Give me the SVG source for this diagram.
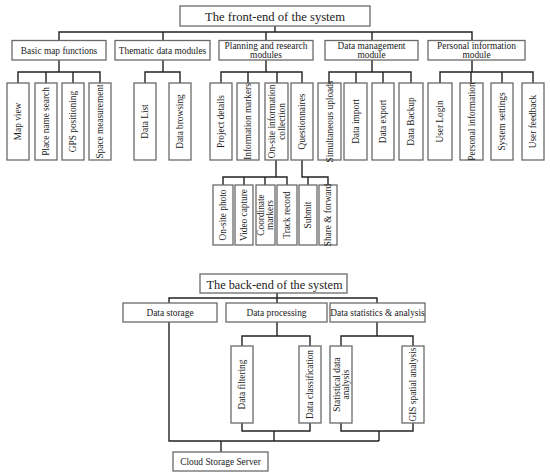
<svg xmlns="http://www.w3.org/2000/svg" width="550" height="476" viewBox="0 0 550 476">
<style>
rect{fill:#fff;stroke:#6a6a6a;stroke-width:1.3}
text{font-family:"Liberation Serif","Times New Roman",serif;fill:#222;text-anchor:middle;dominant-baseline:central}
.t{font-size:13px}
.m{font-size:9.4px}
.l{font-size:9.3px}
#connectors path{fill:none;stroke:#222;stroke-width:1.4}
</style>
<rect x="0" y="0" width="550" height="476" style="fill:#fff;stroke:none"/>
<g id="connectors">
<path d="M275 26V32M59 40V32H472V40M163 32V40M266 32V40M372 32V40"/>
<path d="M59 60V72M18 83V72H100V83M46 72V83M73 72V83"/>
<path d="M163 60V72M145 83V72H180V83"/>
<path d="M266 60V72M221 83V72H302V83M248 72V83M277 72V83"/>
<path d="M372 60V72M329 83V72H411V83M356 72V83M383 72V83"/>
<path d="M472 60V72M440 83V72H533V83M471 72V83M502 72V83"/>
<path d="M276 160V177M223 185V177H287V185M244 177V185M265 177V185"/>
<path d="M302 160V177H328V185M308 177V185"/>
<path d="M277 293V298M169 303V298H377V303M277 298V303"/>
<path d="M277 322V336M242 346V336H310V346"/>
<path d="M377 322V336M341 346V336H413V346"/>
<path d="M242 423V431H310V423M274 431V441"/>
<path d="M341 423V431H413V423M379 431V441"/>
<path d="M169 322V441H379M221 441V452"/>
</g>
<g id="front-end"><rect x="180" y="6" width="190" height="20"/><text class="t" x="275" y="16.5" textLength="140" lengthAdjust="spacingAndGlyphs">The front-end of the system</text></g>
<g id="basic-map"><rect x="12" y="40.5" width="94" height="19.5"/><text class="m" x="59" y="50.5">Basic map functions</text></g>
<g id="thematic"><rect x="115" y="40.5" width="95" height="19.5"/><text class="m" x="162.5" y="50.5">Thematic data modules</text></g>
<g id="planning"><rect x="219" y="40.5" width="94" height="19.5"/><text class="m" x="266" y="45.5">Planning and research</text><text class="m" x="266" y="55">modules</text></g>
<g id="data-mgmt"><rect x="325" y="40.5" width="93" height="19.5"/><text class="m" x="371.5" y="45.5">Data management</text><text class="m" x="371.5" y="55">module</text></g>
<g id="personal"><rect x="428" y="40.5" width="97" height="19.5"/><text class="m" x="476.5" y="45.5">Personal information</text><text class="m" x="476.5" y="55">module</text></g>

<g id="map-view"><rect x="7" y="83" width="22" height="77"/><text class="l" transform="rotate(-90 18 121.5)" x="18" y="121.5">Map view</text></g>
<g id="place-search"><rect x="35" y="83" width="22" height="77"/><text class="l" transform="rotate(-90 46 121.5)" x="46" y="121.5">Place name search</text></g>
<g id="gps"><rect x="62" y="83" width="22" height="77"/><text class="l" transform="rotate(-90 73 121.5)" x="73" y="121.5">GPS positioning</text></g>
<g id="space-meas"><rect x="89" y="83" width="22" height="77"/><text class="l" transform="rotate(-90 100 121.5)" x="100" y="121.5">Space measurement</text></g>
<g id="data-list"><rect x="134" y="83" width="22" height="77"/><text class="l" transform="rotate(-90 145 121.5)" x="145" y="121.5">Data List</text></g>
<g id="data-browsing"><rect x="169" y="83" width="22" height="77"/><text class="l" transform="rotate(-90 180 121.5)" x="180" y="121.5">Data browsing</text></g>
<g id="project-details"><rect x="210" y="83" width="22" height="77"/><text class="l" transform="rotate(-90 221 121.5)" x="221" y="121.5">Project details</text></g>
<g id="info-markers"><rect x="237" y="83" width="22" height="77"/><text class="l" transform="rotate(-90 248 121.5)" x="248" y="121.5">Information markers</text></g>
<g id="onsite-collection"><rect x="265" y="83" width="23" height="77"/><text class="l" transform="rotate(-90 276.5 121.5)" x="276.5" y="117">On-site information</text><text class="l" transform="rotate(-90 276.5 121.5)" x="276.5" y="126.5">collection</text></g>
<g id="questionnaires"><rect x="291" y="83" width="22" height="77"/><text class="l" transform="rotate(-90 302 121.5)" x="302" y="121.5">Questionnaires</text></g>
<g id="sim-uploads"><rect x="318" y="83" width="23" height="77"/><text class="l" transform="rotate(-90 329.5 121.5)" x="329.5" y="121.5">Simultaneous uploads</text></g>
<g id="data-import"><rect x="344" y="83" width="23" height="77"/><text class="l" transform="rotate(-90 355.5 121.5)" x="355.5" y="121.5">Data import</text></g>
<g id="data-export"><rect x="372" y="83" width="22" height="77"/><text class="l" transform="rotate(-90 383 121.5)" x="383" y="121.5">Data export</text></g>
<g id="data-backup"><rect x="399" y="83" width="24" height="77"/><text class="l" transform="rotate(-90 411 121.5)" x="411" y="121.5">Data Backup</text></g>
<g id="user-login"><rect x="428" y="83" width="24" height="77"/><text class="l" transform="rotate(-90 440 121.5)" x="440" y="121.5">User Login</text></g>
<g id="personal-info"><rect x="460" y="83" width="23" height="77"/><text class="l" transform="rotate(-90 471.5 121.5)" x="471.5" y="121.5">Personal information</text></g>
<g id="system-settings"><rect x="491" y="83" width="22" height="77"/><text class="l" transform="rotate(-90 502 121.5)" x="502" y="121.5">System settings</text></g>
<g id="user-feedback"><rect x="522" y="83" width="22" height="77"/><text class="l" transform="rotate(-90 533 121.5)" x="533" y="121.5">User feedback</text></g>

<g id="onsite-photo"><rect x="213" y="185" width="20" height="60"/><text class="l" transform="rotate(-90 223 215)" x="223" y="215">On-site photo</text></g>
<g id="video-capture"><rect x="235" y="185" width="18" height="60"/><text class="l" transform="rotate(-90 244 215)" x="244" y="215">Video capture</text></g>
<g id="coord-markers"><rect x="256" y="185" width="19" height="60"/><text class="l" transform="rotate(-90 265.5 215)" x="265.5" y="210.5">Coordinate</text><text class="l" transform="rotate(-90 265.5 215)" x="265.5" y="219.5">markers</text></g>
<g id="track-record"><rect x="277" y="185" width="20" height="60"/><text class="l" transform="rotate(-90 287 215)" x="287" y="215">Track record</text></g>
<g id="submit"><rect x="299" y="185" width="18" height="60"/><text class="l" transform="rotate(-90 308 215)" x="308" y="215">Submit</text></g>
<g id="share-forward"><rect x="319" y="185" width="18" height="60"/><text class="l" transform="rotate(-90 328 215)" x="328" y="215">Share &amp; forward</text></g>

<g id="back-end"><rect x="200" y="274" width="147" height="19"/><text class="t" x="274.5" y="284" textLength="136" lengthAdjust="spacingAndGlyphs">The back-end of the system</text></g>
<g id="data-storage"><rect x="123" y="303" width="94" height="19"/><text class="m" x="170" y="312.5">Data storage</text></g>
<g id="data-processing"><rect x="226" y="303" width="101" height="19"/><text class="m" x="276.5" y="312.5">Data processing</text></g>
<g id="data-stats"><rect x="330" y="303" width="95" height="19"/><text class="m" x="377.5" y="312.5">Data statistics &amp; analysis</text></g>
<g id="data-filtering"><rect x="231" y="346" width="22" height="77"/><text class="l" transform="rotate(-90 242 384.5)" x="242" y="384.5">Data filtering</text></g>
<g id="data-classification"><rect x="299" y="346" width="22" height="77"/><text class="l" transform="rotate(-90 310 384.5)" x="310" y="384.5">Data classification</text></g>
<g id="stat-analysis"><rect x="330" y="346" width="22" height="77"/><text class="l" transform="rotate(-90 341 384.5)" x="341" y="380">Statistical data</text><text class="l" transform="rotate(-90 341 384.5)" x="341" y="389">analysis</text></g>
<g id="gis-analysis"><rect x="402" y="346" width="22" height="77"/><text class="l" transform="rotate(-90 413 384.5)" x="413" y="384.5">GIS spatial analysis</text></g>
<g id="cloud-server"><rect x="173" y="452" width="95" height="19"/><text class="m" x="220.5" y="461.5">Cloud Storage Server</text></g>
</svg>
